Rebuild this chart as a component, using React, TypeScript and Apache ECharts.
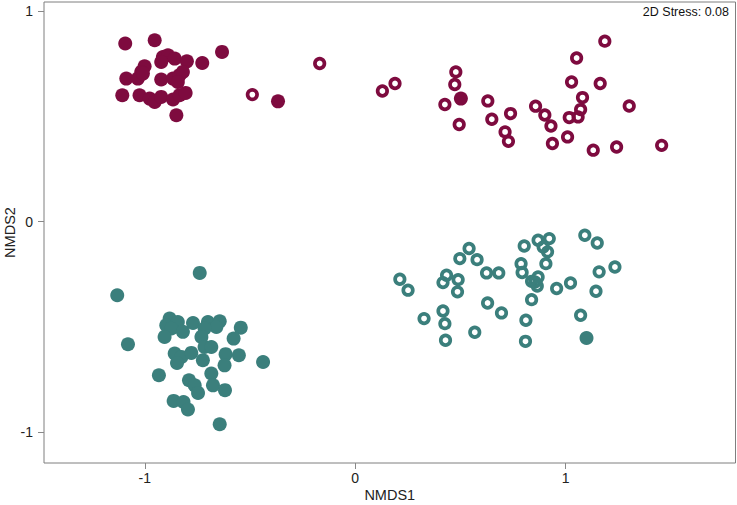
import React, { useEffect, useRef } from "react";
import * as echarts from "echarts";

const MAROON = "#7e0b3f";
const TEAL = "#3b7f7c";

// [NMDS1, NMDS2]
const maroonFilled: number[][] = [
  [-1.093, 0.846], [-0.953, 0.861], [-0.633, 0.806], [-0.914, 0.782], [-0.89, 0.79],
  [-0.858, 0.774], [-0.922, 0.758], [-0.8, 0.761], [-0.727, 0.753], [-1.001, 0.738],
  [-1.017, 0.711], [-1.088, 0.679], [-1.033, 0.679], [-1.009, 0.703], [-0.922, 0.675],
  [-0.866, 0.679], [-0.835, 0.695], [-0.819, 0.711], [-0.843, 0.663], [-1.107, 0.6],
  [-1.025, 0.6], [-0.977, 0.584], [-0.953, 0.568], [-0.922, 0.592], [-0.866, 0.58],
  [-0.835, 0.6], [-0.806, 0.611], [-0.85, 0.505], [-0.367, 0.571], [0.502, 0.584],
];

const maroonHollow: number[][] = [
  [-0.489, 0.603], [-0.169, 0.751], [0.129, 0.62], [0.189, 0.656], [0.478, 0.711],
  [0.473, 0.651], [0.426, 0.556], [0.494, 0.461], [0.63, 0.573], [0.649, 0.486],
  [0.738, 0.513], [0.712, 0.426], [0.728, 0.381], [0.857, 0.548], [0.901, 0.506],
  [0.93, 0.454], [0.937, 0.371], [1.009, 0.402], [1.017, 0.494], [1.059, 0.497],
  [1.071, 0.532], [1.08, 0.589], [1.028, 0.663], [1.052, 0.777], [1.186, 0.857],
  [1.164, 0.656], [1.302, 0.549], [1.131, 0.339], [1.242, 0.354], [1.456, 0.362],
];

const tealFilled: number[][] = [
  [-0.739, -0.244], [-1.131, -0.35], [-1.08, -0.583], [-0.882, -0.461], [-0.898, -0.493],
  [-0.843, -0.477], [-0.874, -0.508], [-0.819, -0.524], [-0.906, -0.548], [-0.771, -0.482],
  [-0.7, -0.477], [-0.644, -0.474], [-0.66, -0.501], [-0.716, -0.508], [-0.731, -0.548],
  [-0.544, -0.504], [-0.578, -0.556], [-0.858, -0.627], [-0.826, -0.643], [-0.847, -0.672],
  [-0.779, -0.624], [-0.724, -0.659], [-0.716, -0.596], [-0.684, -0.596], [-0.616, -0.63],
  [-0.621, -0.683], [-0.553, -0.635], [-0.438, -0.667], [-0.933, -0.73], [-0.79, -0.754],
  [-0.763, -0.778], [-0.747, -0.814], [-0.684, -0.722], [-0.676, -0.778], [-0.619, -0.801],
  [-0.863, -0.852], [-0.816, -0.857], [-0.795, -0.893], [-0.644, -0.963], [1.099, -0.553],
];

const tealHollow: number[][] = [
  [0.212, -0.274], [0.251, -0.326], [0.327, -0.461], [0.417, -0.425], [0.426, -0.485],
  [0.429, -0.564], [0.434, -0.255], [0.417, -0.29], [0.489, -0.276], [0.486, -0.334],
  [0.497, -0.176], [0.541, -0.128], [0.579, -0.181], [0.568, -0.526], [0.624, -0.244],
  [0.682, -0.244], [0.629, -0.387], [0.695, -0.434], [0.803, -0.116], [0.788, -0.2],
  [0.793, -0.242], [0.869, -0.089], [0.922, -0.081], [0.893, -0.121], [0.914, -0.144],
  [0.906, -0.2], [0.838, -0.284], [0.869, -0.263], [0.854, -0.287], [0.865, -0.306],
  [0.838, -0.371], [0.957, -0.318], [0.811, -0.469], [0.809, -0.569], [1.091, -0.065],
  [1.15, -0.102], [1.234, -0.216], [1.159, -0.239], [1.023, -0.292], [1.144, -0.331],
  [1.071, -0.445],
];

const tickValues = [-1, 0, 1];
const stressLabel = "2D Stress: 0.08";

const FONT = "Liberation Sans, Arial, sans-serif";

export default function App() {
  const ref = useRef<HTMLDivElement>(null);
  useEffect(() => {
    if (!ref.current) return;
    const chart = echarts.init(ref.current, undefined, { renderer: "svg" });
    const filled = (data: number[][], color: string) => ({
      type: "scatter",
      data,
      symbol: "circle",
      symbolSize: 14,
      itemStyle: { color, opacity: 1 },
      silent: true,
    });
    const hollow = (data: number[][], color: string) => ({
      type: "scatter",
      data,
      symbol: "circle",
      symbolSize: 9.5,
      itemStyle: { color: "rgba(0,0,0,0)", borderColor: color, borderWidth: 3.7, opacity: 1 },
      silent: true,
    });
    const axisCommon = {
      type: "value",
      splitLine: { show: false },
      axisLine: { show: false, onZero: false },
      axisTick: { show: true, length: 6, customValues: tickValues, lineStyle: { color: "#888" } },
      nameLocation: "middle",
      nameMoveOverlap: false,
      nameTextStyle: { fontFamily: FONT, fontSize: 14.5, color: "#222" },
    };
    chart.setOption({
      animation: false,
      backgroundColor: "#fff",
      grid: {
        left: 44, top: 2, right: 1.5, bottom: 42, show: true, borderColor: "#7f7f7f", borderWidth: 1,
        containLabel: false, outerBoundsMode: "none",
      },
      xAxis: {
        ...axisCommon, min: -1.479, max: 1.807, name: "NMDS1", nameGap: 24,
        axisLabel: { customValues: tickValues, fontFamily: FONT, fontSize: 14, color: "#222", margin: 8 },
      },
      yAxis: {
        ...axisCommon, min: -1.147, max: 1.043, name: "NMDS2", nameGap: 27,
        axisLabel: { customValues: tickValues, fontFamily: FONT, fontSize: 14, color: "#222", margin: 11 },
      },
      graphic: [
        {
          type: "text",
          right: 8,
          top: 5,
          style: { text: stressLabel, fontFamily: FONT, fontSize: 12.5, fill: "#111" },
        },
      ],
      series: [
        filled(maroonFilled, MAROON),
        hollow(maroonHollow, MAROON),
        filled(tealFilled, TEAL),
        hollow(tealHollow, TEAL),
      ],
    });
    return () => chart.dispose();
  }, []);
  return (
    <div
      ref={ref}
      style={{ position: "fixed", left: 0, top: 0, width: 737, height: 505, background: "#fff" }}
    />
  );
}
